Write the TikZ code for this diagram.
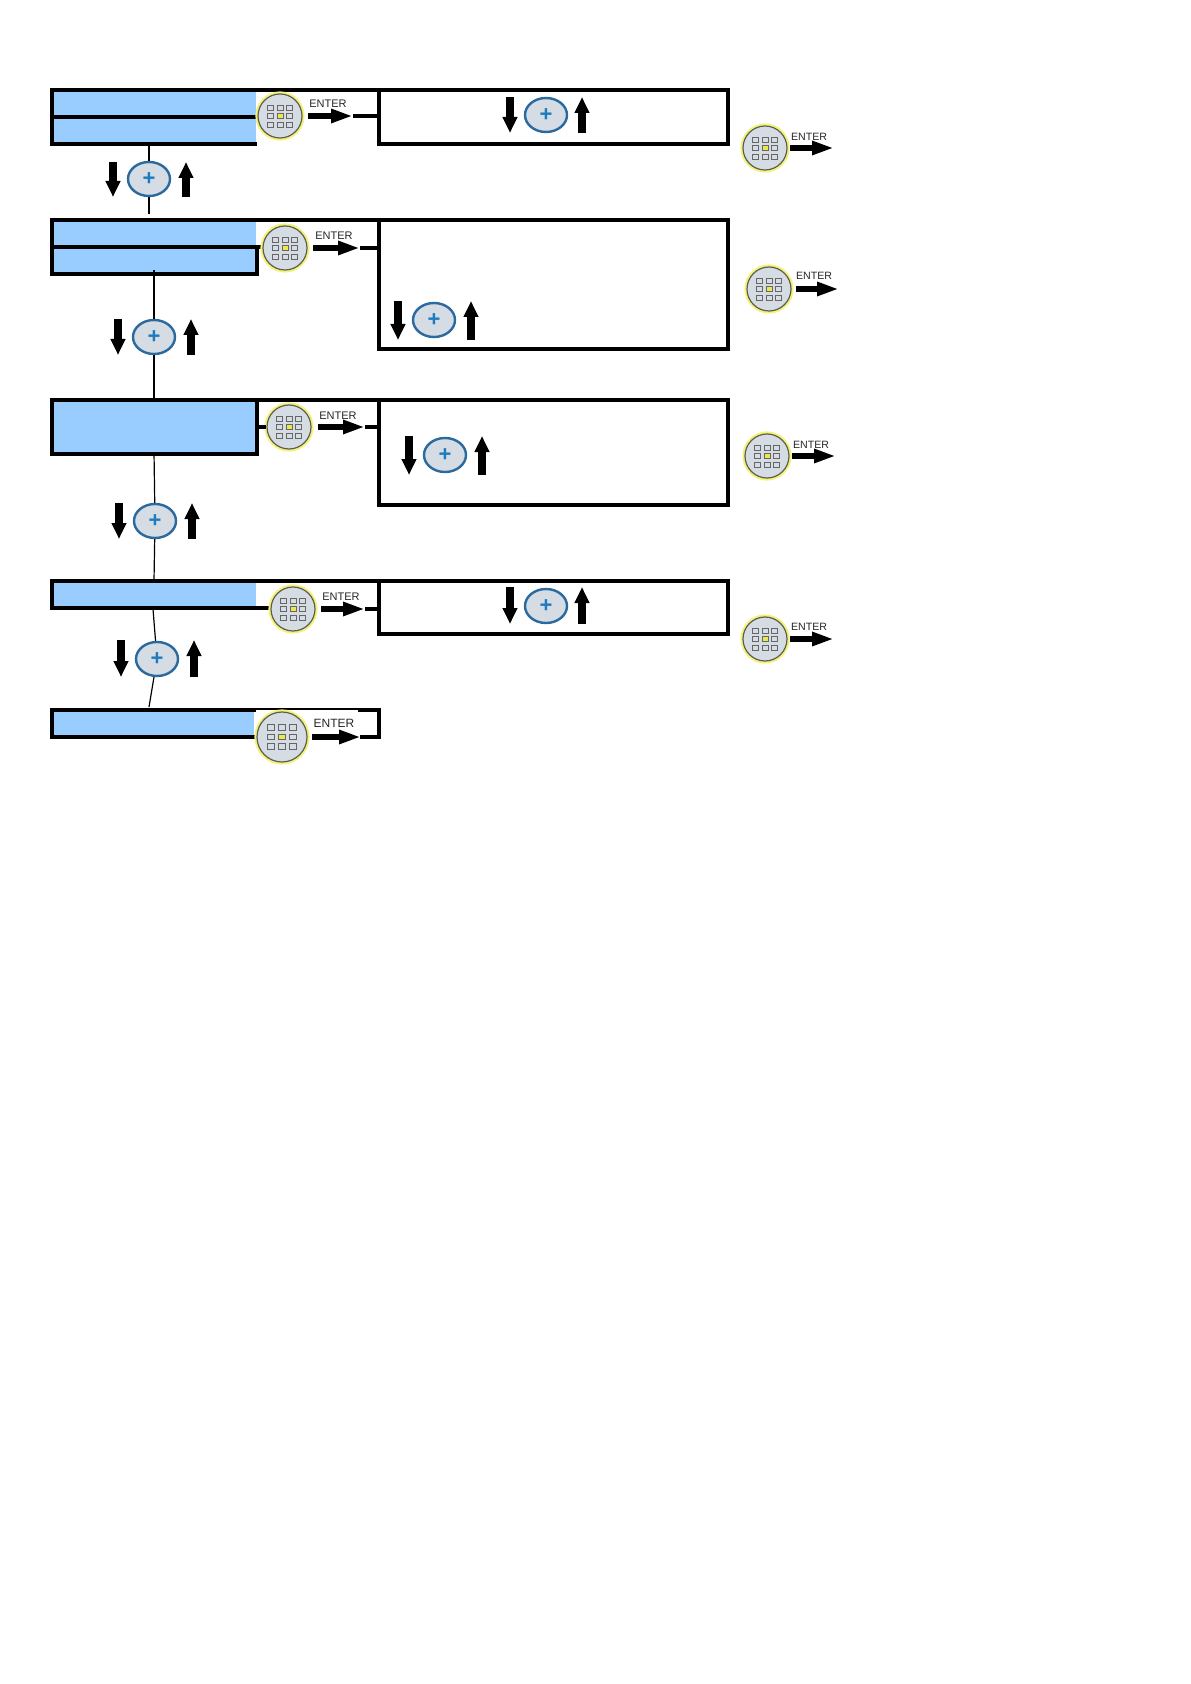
\documentclass[tikz,border=0pt]{standalone}
\usepackage{fontspec}
\setmainfont{Liberation Sans}
\usetikzlibrary{arrows.meta,shapes.geometric}
\definecolor{rowblue}{HTML}{99CCFF}
\definecolor{keygray}{HTML}{D6DCE4}
\definecolor{keyline}{HTML}{5A5F50}
\definecolor{keyglow}{HTML}{F4F27A}
\definecolor{keyyellow}{HTML}{EDE84A}
\definecolor{ovalblue}{HTML}{2A6A9E}
\definecolor{plusblue}{HTML}{1F7BBF}

\begin{document}
\begin{tikzpicture}[x=0.5pt,y=-0.5pt,
	frame/.style={line width=2pt,line cap=rect},
	tick/.style={line width=2pt},
	vline/.style={line width=0.6pt},
	row/.style={fill=rowblue},
	keypad/.style={circle,draw=keyline,fill=keygray,line width=0.6pt,inner sep=0pt},
	keybtn/.style={draw=black!60,fill=keygray,line width=0.35pt},
	entertext/.style={text=black!85,inner sep=0pt},
	enterarrow/.style={line width=3pt,-{Triangle[length=11pt,width=6.5pt]}},
	plusoval/.style={ellipse,draw=ovalblue,fill=keygray,line width=1.2pt,minimum width=21pt,minimum height=17pt,inner sep=0pt,text=plusblue,font=\bfseries\fontsize{11}{11}\selectfont},
	updown/.style={line width=4pt,-{Triangle[length=8pt,width=7pt]}}]
	\useasboundingbox (0,0) rectangle (1190,1684);

	% blue rows
	\fill[row] (54,92) rectangle (256,115);
	\fill[row] (54,119) rectangle (256,142);
	\fill[row] (54,222) rectangle (256,245);
	\fill[row] (54,249) rectangle (255,272);
	\fill[row] (54,402) rectangle (255,452);
	\fill[row] (54,583) rectangle (256,606);
	\fill[row] (54,712) rectangle (254,735);

	% left column
	\draw[frame] (255,144) -- (52,144) -- (52,90) -- (379,90);
	\draw[frame] (52,117) -- (255,117);
	\draw[frame] (259,247) -- (52,247);
	\draw[frame] (379,220) -- (52,220) -- (52,274) -- (257,274) -- (257,247);
	\draw[frame] (379,400) -- (52,400) -- (52,454) -- (257,454) -- (257,400);
	\draw[frame] (379,581) -- (52,581) -- (52,608) -- (268,608);
	\draw[frame] (254,710) -- (52,710) -- (52,737) -- (254,737);
	\draw[line width=1pt] (254,709) -- (360,709);
	\draw[frame] (360,710) -- (379,710) -- (379,737) -- (362,737);

	% right column
	\draw[frame] (379,90) rectangle (728,144);
	\draw[frame] (379,220) rectangle (728,349);
	\draw[frame] (379,400) rectangle (728,505);
	\draw[frame] (379,581) rectangle (728,634);

	% keypads with ENTER
	\foreach \kname/\kx/\ky/\ax/\bx/\tx/\ty/\kr/\ks in {
		keya/280/116/308/353/328/104/22/5.5,
		keyb/285/248/313/360/334/236/22/5.5,
		keyc/289/427/318/365/338/416/22/5.5,
		keyd/293/609/321/365/341/597/22/5.5,
		keye/282/737/312/361/334/723/25/6,
		keyf/765/148/790/834/809/137/22/5.3,
		keyg/769/289/796/839/814/276/22/5.3,
		keyh/767/456/792/836/811/445/22/5.3,
		keyi/765/639/790/834/809/627/22/5.3} {
		\draw[draw=keyglow,line width=1.6pt] (\kx,\ky) circle (\kr+1);
		\node[keypad,minimum size=\kr pt] (\kname) at (\kx,\ky) {};
		\begin{scope}[shift={(\kx,\ky)},scale=\kr/22]
			\foreach \i in {-1,0,1}
				\foreach \j in {-1,0,1}
					\draw[keybtn] (\i*9.5-3,\j*8.5-2.5) rectangle ++(6,5);
			\draw[keybtn,fill=keyyellow] (-3,-2.5) rectangle (3,2.5);
		\end{scope}
		\node[entertext,font=\fontsize{\ks}{7}\selectfont] (\kname text) at (\tx,\ty) {ENTER};
		\coordinate (\kname a) at (\ax,\ky);
		\coordinate (\kname b) at (\bx,\ky);
		\draw[enterarrow] (\kname a) -- (\kname b);
	}

	% ticks up to the right column
	\coordinate (boxa) at (379,116);
	\coordinate (boxb) at (379,248);
	\coordinate (boxc) at (379,427);
	\coordinate (boxd) at (379,609);
	\coordinate (leftc) at (257,427);
	\draw[tick] (keyab) -- (boxa);
	\draw[tick] (keybb) -- (boxb);
	\draw[tick] (keycb) -- (boxc);
	\draw[tick] (keydb) -- (boxd);
	\draw[tick] (leftc) -- (keyc);

	% plus keys with the two arrows
	\foreach \pname/\px/\py/\dx/\ux/\ya/\yb in {
		plusa/149/179/113/186/162/197,
		plusb/154/337/118/191/319/355,
		plusc/155/521/119/192/503/539,
		plusd/157/659/121/194/640/677,
		pluse/546/115/510/582/97/133,
		plusf/434/320/398/471/301/340,
		plusg/445/455/409/482/436/475,
		plush/546/606/510/582/587/624} {
		\node[plusoval] (\pname) at (\px,\py) {\raisebox{-0.5pt}{+}};
		\coordinate (\pname top) at (\dx,\ya);
		\coordinate (\pname bot) at (\dx,\yb);
		\coordinate (\pname utop) at (\ux,\ya);
		\coordinate (\pname ubot) at (\ux,\yb);
		\draw[updown] (\pname top) -- (\pname bot);
		\draw[updown] (\pname ubot) -- (\pname utop);
	}

	% thin lines between the rows
	\coordinate (rowa) at (149,146);
	\coordinate (rowb) at (149,214);
	\coordinate (rowc) at (154,270);
	\coordinate (rowd) at (154,400);
	\coordinate (rowe) at (154,452);
	\coordinate (rowf) at (154,581);
	\coordinate (rowg) at (153,609);
	\coordinate (rowh) at (149,707);
	\draw[vline] (rowa) -- (plusa) -- (rowb);
	\draw[vline] (rowc) -- (plusb) -- (rowd);
	\draw[vline] (rowe) -- (plusc) -- (rowf);
	\draw[vline] (rowg) -- (plusd) -- (rowh);
\end{tikzpicture}
\end{document}
